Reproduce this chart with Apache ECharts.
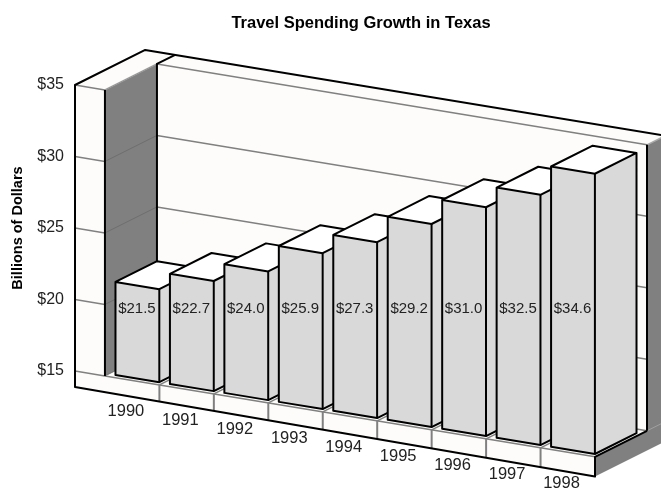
<!DOCTYPE html>
<html>
<head>
<meta charset="utf-8">
<style>html,body{margin:0;padding:0;background:#fff}#chart{width:661px;height:490px}</style>
<script src="https://cdn.jsdelivr.net/npm/echarts@6/dist/echarts.min.js"></script>
</head>
<body>
<div id="chart"></div>
<script>
// Travel spending in Texas, billions of dollars per year.
const years = ['1990', '1991', '1992', '1993', '1994', '1995', '1996', '1997', '1998'];
const spending = [21.5, 22.7, 24.0, 25.9, 27.3, 29.2, 31.0, 32.5, 34.6];
const yMin = 15;
const yMax = 35;
const yStep = 5;

// Oblique projection: category run slopes downward, depth runs up and to the right.
const SHEAR = 0.165;
const DEPTH_X = 52;
const DEPTH_Y = -26;
const ORIGIN_X = 75;
const SLAB = -0.55;          // left edge of the wall slab, in category units
const BACK_OUTER = 1.35;     // outer face of the back wall, in depth units
const FLOOR_LOW_L = 13.88;   // underside of the floor, left and right ends
const FLOOR_LOW_R = 13.62;
const WALL = '#fdfcfa';
const DARK = '#808080';
const LINE = '#000';
const GRID = '#808080';
const BAR = '#d9d9d9';
const FONT = '"Liberation Sans", Arial, sans-serif';

function projector(api) {
  return function (xi, v, z) {
    const c = api.coord([xi, v]);
    return [c[0] + z * DEPTH_X, c[1] + (c[0] - ORIGIN_X) * SHEAR + z * DEPTH_Y];
  };
}
const poly = (points, fill) => ({
  type: 'polygon', shape: { points }, style: { fill, stroke: null }
});
const line = (points, stroke, lineWidth) => ({
  type: 'polyline', shape: { points }, style: { fill: null, stroke, lineWidth, lineJoin: 'round' }
});

function renderFrame(params, api) {
  const P = projector(api);
  const n = years.length;
  const ch = [];
  const lowAt = (xi) => FLOOR_LOW_L + (FLOOR_LOW_R - FLOOR_LOW_L) * (xi - SLAB) / (n - SLAB);

  // Walls and floor
  ch.push(poly([P(0, yMax, 1), P(n, yMax, 1), P(n, yMin, 1), P(0, yMin, 1)], WALL));
  ch.push(poly([P(0, yMax, 0), P(0, yMax, 1), P(0, yMin, 1), P(0, yMin, 0)], DARK));
  ch.push(poly([P(0, yMin, 0), P(n, yMin, 0), P(n, yMin, 1), P(0, yMin, 1)], WALL));
  ch.push(poly([P(SLAB, yMax, 0), P(0, yMax, 0), P(0, yMin, 0), P(n, yMin, 0),
    P(n, FLOOR_LOW_R, 0), P(SLAB, FLOOR_LOW_L, 0)], WALL));
  ch.push(poly([P(SLAB, yMax, 0), P(SLAB, yMax, BACK_OUTER), P(n + 2, yMax, BACK_OUTER),
    P(n, yMax, 1), P(0, yMax, 1), P(0, yMax, 0)], WALL));
  ch.push(poly([P(n, yMin, 0), P(n, yMin, 1), P(n, yMax, 1), P(n, yMax, BACK_OUTER),
    P(n, FLOOR_LOW_R, BACK_OUTER), P(n, FLOOR_LOW_R, 0)], DARK));

  // Value gridlines on slab, side wall and back wall
  for (let v = yMin; v <= yMax; v += yStep) {
    ch.push(line([P(SLAB, v, 0), P(0, v, 0)], GRID, 1.5));
    if (v < yMax) ch.push(line([P(0, v, 0), P(0, v, 1)], '#6e6e6e', 1));
    ch.push(line([P(0, v, 1), P(n, v, 1)], GRID, 1.5));
  }
  ch.push(line([P(0, yMax, 0), P(0, yMax, 1)], '#999', 1.5));
  ch.push(line([P(n, yMax, 1), P(n, yMax, BACK_OUTER)], '#aaa', 1.5));
  ch.push(line([P(n, yMin, 1), P(n, yMin, BACK_OUTER)], '#a0a0a0', 1));

  // Floor edge, category separators and their depth lines
  ch.push(line([P(0, yMin, 0), P(n, yMin, 0)], GRID, 1.5));
  for (let i = 1; i < n; i++) {
    ch.push(line([P(i, yMin, 0), P(i, lowAt(i), 0)], GRID, 2));
    ch.push(line([P(i, yMin, 0), P(i, yMin, 1)], GRID, 1.5));
  }

  // Black outline
  ch.push(line([P(SLAB, yMin - 0.1, 0), P(SLAB, yMax, 0), P(SLAB, yMax, BACK_OUTER), P(n + 2, yMax, BACK_OUTER)], LINE, 2));
  ch.push(line([P(SLAB, yMax, 0), P(SLAB, FLOOR_LOW_L, 0), P(n, FLOOR_LOW_R, 0), P(n, yMin, 0), P(n, yMin, 1)], LINE, 2));
  ch.push(line([P(0, yMax, 0), P(0, yMin, 0)], LINE, 2));
  ch.push(line([P(0, yMin, 1), P(0, yMax, 1), P(0, yMax, BACK_OUTER)], LINE, 2));
  ch.push(line([P(n, yMin, 1), P(n, yMax, 1)], LINE, 2));

  return { type: 'group', children: ch };
}

function renderBar(params, api) {
  const P = projector(api);
  const i = api.value(0);
  const v = api.value(1);
  const a = i + 0.117, b = i + 0.922, z0 = 0.08, z1 = 0.88;
  const labelAnchor = P(i + 0.385, yMin, 0);
  const center = P((a + b) / 2, v, z0);
  return {
    type: 'group',
    children: [
      poly([P(a, yMin, z0), P(b, yMin, z0), P(b, v, z0), P(a, v, z0)], BAR),
      poly([P(b, yMin, z0), P(b, yMin, z1), P(b, v, z1), P(b, v, z0)], BAR),
      poly([P(a, v, z0), P(b, v, z0), P(b, v, z1), P(a, v, z1)], '#fff'),
      line([P(a, v, z0), P(a, yMin, z0), P(b, yMin, z0), P(b, yMin, z1), P(b, v, z1),
        P(a, v, z1), P(a, v, z0), P(b, v, z0), P(b, v, z1)], LINE, 2),
      line([P(b, v, z0), P(b, yMin, z0)], LINE, 2),
      { type: 'text', style: {
        text: '$' + v.toFixed(1), x: center[0] - 0.5, y: 309, align: 'center', verticalAlign: 'middle',
        font: '15px ' + FONT, fill: '#222'
      } },
      { type: 'text', style: {
        text: years[i], x: labelAnchor[0], y: labelAnchor[1] + 32, align: 'center', verticalAlign: 'middle',
        font: '16.5px ' + FONT, fill: '#222'
      } }
    ]
  };
}

const chart = echarts.init(document.getElementById('chart'), null, { renderer: 'canvas' });
chart.setOption({
  animation: false,
  backgroundColor: '#fff',
  title: {
    text: 'Travel Spending Growth in Texas',
    left: 356, top: 10, textAlign: 'center',
    textStyle: { fontFamily: FONT, fontSize: 16.5, fontWeight: 'bold', color: '#000' }
  },
  grid: { left: ORIGIN_X, top: 85, width: 520, height: 286, outerBoundsMode: 'none' },
  xAxis: { type: 'value', min: SLAB, max: years.length, show: false },
  yAxis: {
    type: 'value', min: yMin, max: yMax, interval: yStep,
    name: 'Billions of Dollars', nameLocation: 'middle', nameGap: 50, nameRotate: 90,
    nameTextStyle: { fontFamily: FONT, fontSize: 14.5, fontWeight: 'bold', color: '#000' },
    axisLine: { show: false }, axisTick: { show: false }, splitLine: { show: false },
    axisLabel: { margin: 11, fontFamily: FONT, fontSize: 16, color: '#222', formatter: (v) => '$' + v }
  },
  series: [
    { type: 'custom', silent: true, renderItem: renderFrame, data: [[0, yMin]], z: 1 },
    {
      type: 'custom', silent: true, renderItem: renderBar, z: 2,
      encode: { x: 0, y: 1 },
      data: spending.map((v, i) => [i, v])
    }
  ]
});
</script>
</body>
</html>
